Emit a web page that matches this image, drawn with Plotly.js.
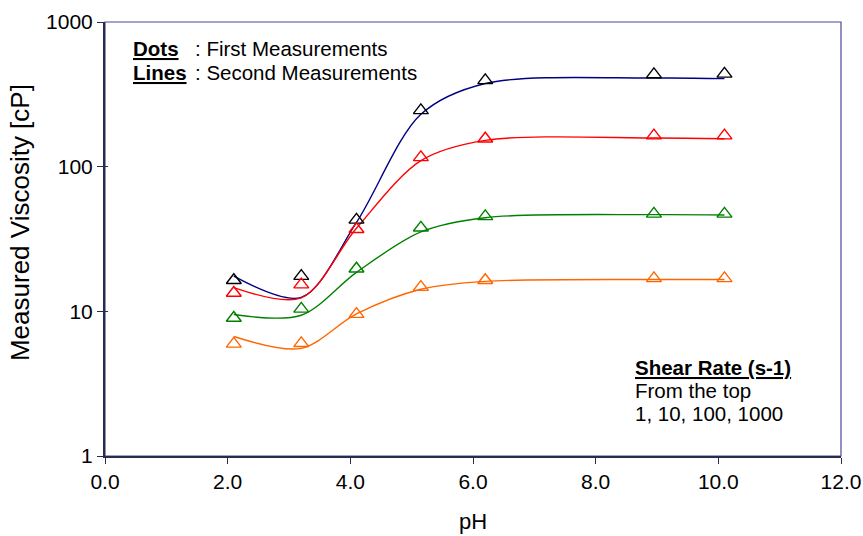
<!DOCTYPE html>
<html>
<head>
<meta charset="utf-8">
<script src="https://cdn.plot.ly/plotly-3.0.1.min.js"></script>
<style>html,body{margin:0;padding:0;background:#fff;}#chart{width:863px;height:536px;}</style>
</head>
<body>
<div id="chart"></div>
<script>
// pH values
const pH = [2.1, 3.2, 4.1, 5.15, 6.2, 8.95, 10.1];
// First measurements (dots), by shear rate (s-1)
const dots1    = [16.4, 17.5, 42.9, 245, 395, 434, 438];
const dots10   = [13.4, 15.3, 36.9, 116, 156, 164, 164];
const dots100  = [9.0, 10.4, 19.7, 37.8, 45.3, 47.2, 47.2];
const dots1000 = [5.96, 6.01, 9.56, 14.7, 16.4, 16.9, 16.9];
// Second measurements (smoothed lines)
const line1    = [17.5, 12.5, 41.2, 230, 376, 410, 406];
const line10   = [14.6, 12.4, 37.5, 110, 152, 158, 156];
const line100  = [9.5, 9.4, 18.6, 35.4, 44.4, 46.6, 46.3];
const line1000 = [6.7, 5.55, 9.6, 14.2, 16.1, 16.6, 16.6];

const xTicks = [0, 2, 4, 6, 8, 10, 12];
const xTickText = ['0.0', '2.0', '4.0', '6.0', '8.0', '10.0', '12.0'];
const yTicks = [1, 10, 100, 1000];
const yTickText = ['1', '10', '100', '1000'];

const lineColors = ['#000080', '#FF0000', '#008000', '#FF6600'];
const dotColors  = ['#000000', '#FF0000', '#008000', '#FF6600'];
const lineSets = [line1, line10, line100, line1000];
const dotSets = [dots1, dots10, dots100, dots1000];

const FONT = 'Liberation Sans, Arial, sans-serif';
const traces = [];
lineSets.forEach((ys, i) => {
  traces.push({
    x: pH, y: ys, type: 'scatter', mode: 'lines',
    line: {color: lineColors[i], width: 1.4, shape: 'spline', smoothing: 0.9},
    showlegend: false, hoverinfo: 'skip'
  });
});
dotSets.forEach((ys, i) => {
  traces.push({
    x: pH, y: ys, type: 'scatter', mode: 'markers',
    marker: {symbol: 'triangle-up-open', size: 13, color: dotColors[i], line: {color: dotColors[i], width: 1.4}},
    showlegend: false, hoverinfo: 'skip'
  });
});
// invisible helper for inside y tick stubs
traces.push({x: [0], y: [1], yaxis: 'y2', mode: 'markers', marker: {opacity: 0}, showlegend: false, hoverinfo: 'skip'});

const layout = {
  width: 863, height: 536,
  margin: {l: 105, r: 22, t: 22, b: 80},
  paper_bgcolor: '#ffffff', plot_bgcolor: '#ffffff',
  font: {family: FONT, size: 20, color: '#000'},
  showlegend: false,
  xaxis: {
    range: [0, 12], tickvals: xTicks, ticktext: xTickText,
    showgrid: false, zeroline: false,
    showline: true, linecolor: '#2a2a4a', linewidth: 1.5,
    ticks: 'outside', ticklen: 6, tickcolor: '#2a2a4a', tickwidth: 1,
    tickfont: {family: FONT, size: 21, color: '#000'},
    title: {text: 'pH', font: {family: FONT, size: 22, color: '#000'}, standoff: 22}
  },
  yaxis: {
    type: 'log', range: [0, 3], tickvals: yTicks, ticktext: yTickText,
    showgrid: false, zeroline: false,
    showline: true, linecolor: '#2a2a4a', linewidth: 2,
    ticks: 'outside', ticklen: 6, tickcolor: '#2a2a4a', tickwidth: 1,
    tickfont: {family: FONT, size: 21, color: '#000'}
  },
  yaxis2: {
    type: 'log', range: [0, 3], tickvals: yTicks, overlaying: 'y', side: 'left',
    showticklabels: false, showgrid: false, zeroline: false, showline: false,
    ticks: 'inside', ticklen: 3, tickcolor: '#2a2a4a', tickwidth: 1
  },
  shapes: [
    {type: 'rect', xref: 'paper', yref: 'paper', x0: 0, x1: 1, y0: 0, y1: 1,
     line: {color: '#4848a0', width: 1.2}, layer: 'below'}
  ],
  annotations: [
    {text: 'Measured Viscosity [cP]', textangle: -90, x: -0.1155, y: 0.539, xref: 'paper', yref: 'paper', xanchor: 'center', yanchor: 'middle', showarrow: false, font: {family: FONT, size: 26, color: '#000'}},
    {text: '<b><u>Dots</u></b>', x: 0.0353, y: 0.940, xref: 'paper', yref: 'paper', xanchor: 'left', yanchor: 'middle', showarrow: false, font: {family: FONT, size: 20.5, color: '#000'}},
    {text: ': First Measurements', x: 0.120, y: 0.940, xref: 'paper', yref: 'paper', xanchor: 'left', yanchor: 'middle', showarrow: false, font: {family: FONT, size: 20.5, color: '#000'}},
    {text: '<b><u>Lines</u></b>', x: 0.0353, y: 0.8825, xref: 'paper', yref: 'paper', xanchor: 'left', yanchor: 'middle', showarrow: false, font: {family: FONT, size: 20.5, color: '#000'}},
    {text: ': Second Measurements', x: 0.120, y: 0.8825, xref: 'paper', yref: 'paper', xanchor: 'left', yanchor: 'middle', showarrow: false, font: {family: FONT, size: 20.5, color: '#000'}},
    {text: '<b><u>Shear Rate (s-1)</u></b>', x: 0.717, y: 0.205, xref: 'paper', yref: 'paper', xanchor: 'left', yanchor: 'middle', showarrow: false, font: {family: FONT, size: 20.5, color: '#000'}},
    {text: 'From the top', x: 0.717, y: 0.150, xref: 'paper', yref: 'paper', xanchor: 'left', yanchor: 'middle', showarrow: false, font: {family: FONT, size: 20.5, color: '#000'}},
    {text: '1, 10, 100, 1000', x: 0.717, y: 0.099, xref: 'paper', yref: 'paper', xanchor: 'left', yanchor: 'middle', showarrow: false, font: {family: FONT, size: 20.5, color: '#000'}}
  ]
};

Plotly.newPlot('chart', traces, layout, {staticPlot: true, displayModeBar: false});
</script>
</body>
</html>
